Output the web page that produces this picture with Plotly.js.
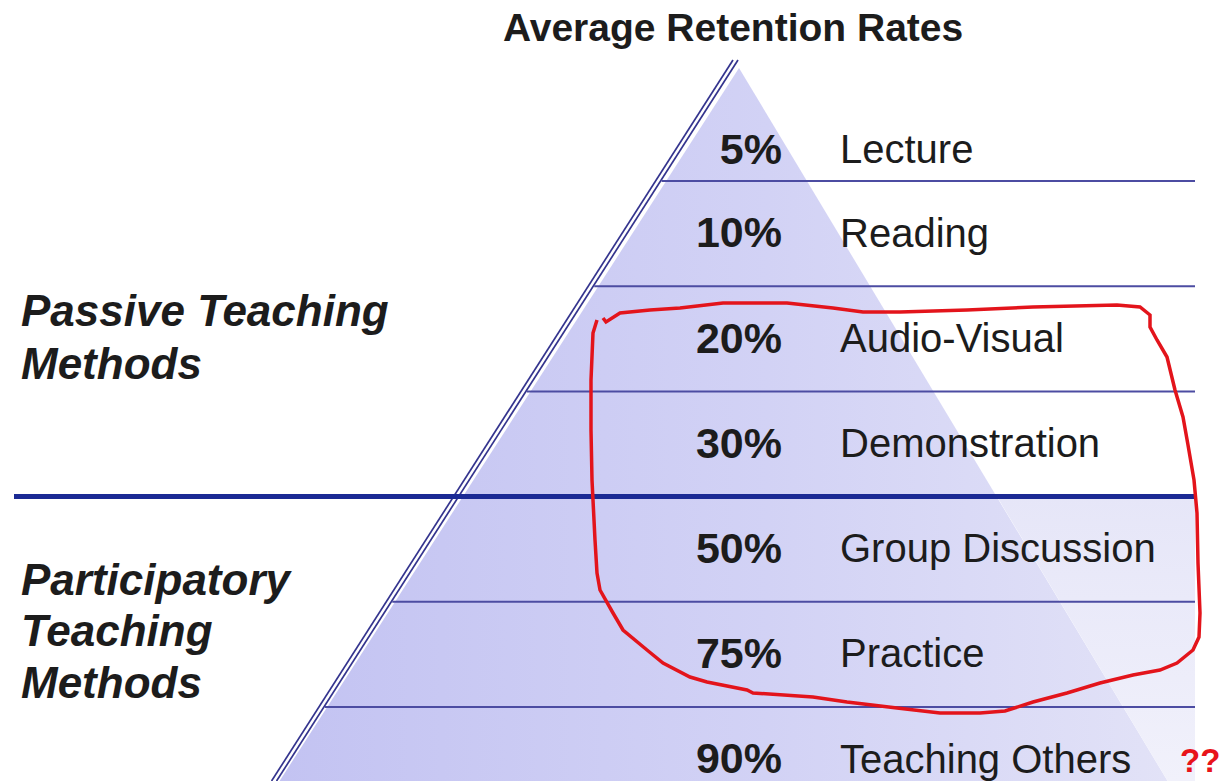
<!DOCTYPE html>
<html><head><meta charset="utf-8">
<script src="https://cdn.plot.ly/plotly-3.0.1.min.js"></script>
<style>html,body{margin:0;padding:0;background:#fff;}#chart{width:1224px;height:781px;}</style>
</head><body><div id="chart"></div>
<script>
// ---- data ----
const chartTitle = 'Average Retention Rates';
const methods = ['Lecture','Reading','Audio-Visual','Demonstration','Group Discussion','Practice','Teaching Others'];
const retention = [5, 10, 20, 30, 50, 75, 90];
const passiveLines = ['Passive Teaching', 'Methods'];
const participatoryLines = ['Participatory', 'Teaching', 'Methods'];
const passiveCount = 4;
const sideNote = '??';

// ---- layout geometry (pixel-space axes) ----
const W = 1224, H = 781;
const apexX = 735, apexY = 60;
const leftSlope = 0.64, rightSlope = 0.6;
const firstEdge = 181, rowH = 105.2, rightEnd = 1195;
const leftX = y => apexX - leftSlope * (y - apexY);
const edgeY = k => firstEdge + k * rowH;
const rowMid = k => k === 0 ? firstEdge - 28 : edgeY(k) - rowH / 2 + 3;
const pctRight = 782, labelLeft = 840;
const FONT = 'Liberation Sans, Arial, Helvetica, sans-serif';
const INK = '#1c1c1c';

const rows = methods.map((_, i) => i);
const traces = [];

// pyramid body (gradient)
const diagBottom = apexX + rightSlope * (H - apexY);
traces.push({
  type: 'scatter', mode: 'none', fill: 'toself', hoverinfo: 'skip', showlegend: false,
  x: [apexX + 4, leftX(H) + 6, diagBottom, apexX + 4],
  y: [apexY + 8, H, H, apexY + 8],
  fillgradient: {type: 'horizontal', colorscale: [[0, '#c3c3f2'], [0.55, '#d2d2f5'], [1, '#e2e2f7']]}
});
// light tint to the right of the pyramid in the lower rows
const yt = edgeY(passiveCount - 1);
traces.push({
  type: 'scatter', mode: 'none', fill: 'toself', hoverinfo: 'skip', showlegend: false,
  x: [apexX + rightSlope * (yt - apexY), rightEnd, rightEnd, diagBottom],
  y: [yt, yt, H, H],
  fillgradient: {type: 'vertical', colorscale: [[0, '#f1f1fb'], [1, '#e6e6f8']]}
});

// percentages
traces.push({
  type: 'scatter', mode: 'text', hoverinfo: 'skip', showlegend: false,
  x: rows.map(() => pctRight), y: rows.map(rowMid),
  text: retention.map(v => v + '%'), textposition: 'middle left',
  textfont: {family: FONT, size: 43, color: INK, weight: 'bold'}
});
// method names
traces.push({
  type: 'scatter', mode: 'text', hoverinfo: 'skip', showlegend: false,
  x: rows.map(() => labelLeft), y: rows.map(rowMid),
  text: methods, textposition: 'middle right',
  textfont: {family: FONT, size: 40, color: INK}
});

// ---- shapes ----
const shapes = [];
// double left edge of the pyramid
[-2, 3].forEach(d => shapes.push({
  type: 'line', xref: 'x', yref: 'y', x0: apexX + d, y0: apexY, x1: leftX(H) + d, y1: H,
  line: {color: '#34348e', width: 1.7}
}));
// row separators
for (let k = 0; k < methods.length - 1; k++) {
  const y = edgeY(k);
  const thick = k === passiveCount - 1;
  shapes.push({
    type: 'line', xref: 'x', yref: 'y', x0: thick ? 14 : leftX(y) + 4, y0: y, x1: rightEnd, y1: y,
    line: {color: thick ? '#1b2a94' : '#4c4ca2', width: thick ? 5 : 2}
  });
}
// hand-drawn red loop (annotation overlay)
const loop = [[603,318],[606,322],[620,313],[650,310],[680,308],[723,303],[787,303],[833,308],[863,312],[900,312],
  [967,310],[1033,307],[1117,305],[1140,307],[1150,315],[1150,327],[1157,340],[1167,357],[1175,390],[1183,417],
  [1188,445],[1194,480],[1197,513],[1198,563],[1200,613],[1199,637],[1193,650],[1177,663],[1160,670],[1133,675],
  [1100,683],[1067,693],[1033,702],[1005,711],[980,713],[940,713],[897,708],[847,702],[813,697],[753,693],
  [747,690],[707,682],[690,677],[663,663],[647,650],[623,630],[613,613],[600,590],[597,573],[595,540],
  [592,480],[591,430],[591,380],[593,333],[597,320]];
shapes.push({
  type: 'path', xref: 'x', yref: 'y',
  path: loop.map((p, i) => (i ? 'L' : 'M') + p[0] + ',' + p[1]).join(' '),
  line: {color: '#e3141b', width: 3.5}
});

// ---- annotations ----
const annotations = [];
annotations.push({x: 733, y: 27, xref: 'x', yref: 'y', text: '<b>' + chartTitle + '</b>', showarrow: false,
  xanchor: 'center', yanchor: 'middle', font: {family: FONT, size: 39, color: INK}});
const grp = (lines, ys) => lines.forEach((t, i) => annotations.push({
  x: 19, y: ys[i], xref: 'x', yref: 'y', text: '<b><i>' + t + '</i></b>', showarrow: false,
  xanchor: 'left', yanchor: 'middle', font: {family: FONT, size: 44, color: INK}}));
grp(passiveLines, [310, 363]);
grp(participatoryLines, [579, 630, 682]);
annotations.push({x: 1221, y: H - 1, xref: 'x', yref: 'y', text: '<b>' + sideNote + '</b>', showarrow: false,
  xanchor: 'right', yanchor: 'bottom', borderpad: 0,
  font: {family: FONT, size: 33, color: '#e8141a'}});

const layout = {
  width: W, height: H, margin: {l: 0, r: 0, t: 0, b: 0},
  paper_bgcolor: '#ffffff', plot_bgcolor: '#ffffff', showlegend: false,
  xaxis: {range: [0, W], visible: false, fixedrange: true},
  yaxis: {range: [H, 0], visible: false, fixedrange: true},
  shapes: shapes, annotations: annotations
};
Plotly.newPlot('chart', traces, layout, {staticPlot: true, displayModeBar: false});
</script></body></html>
